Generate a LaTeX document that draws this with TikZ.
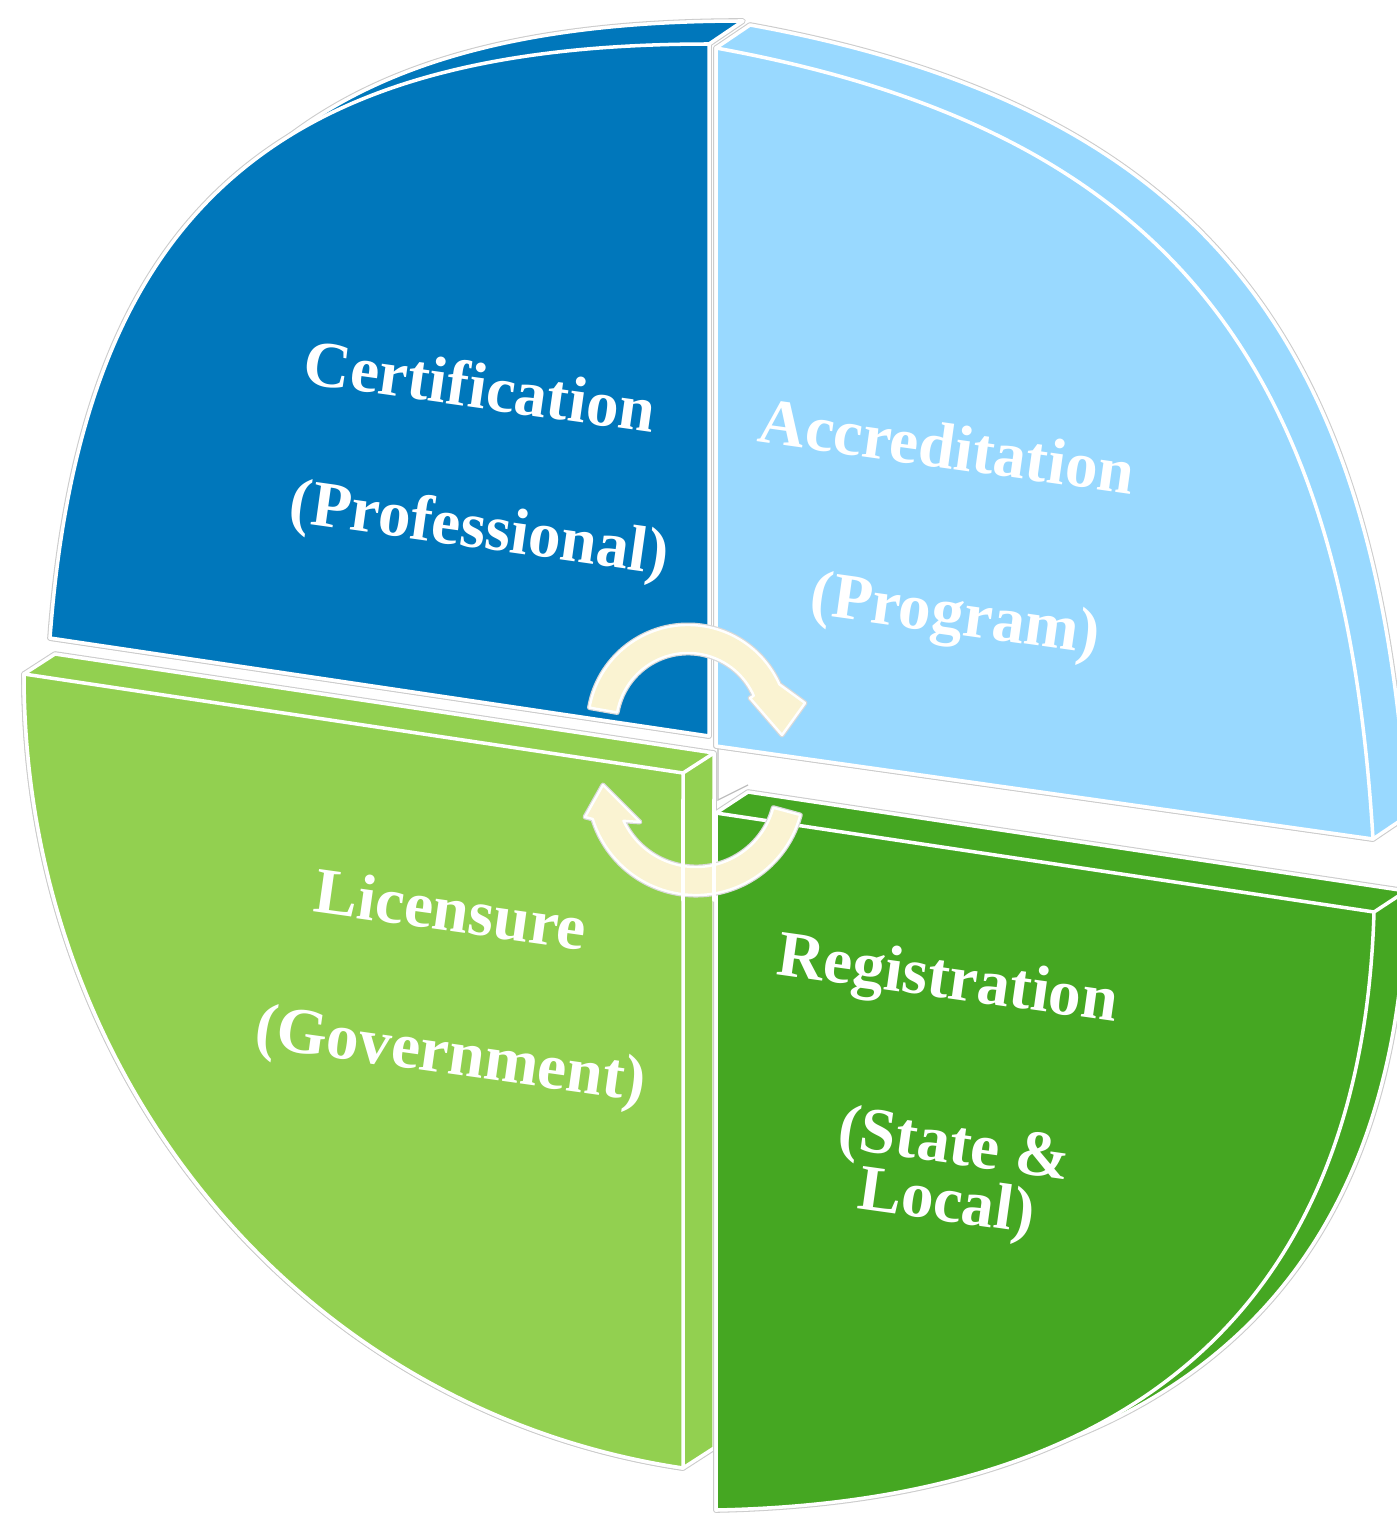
\documentclass[tikz,border=0pt]{standalone}
\usepackage{fontspec}
\setmainfont{Liberation Serif}
\definecolor{qblue}{HTML}{0077BB}
\definecolor{qlblue}{HTML}{99D9FF}
\definecolor{qlgreen}{HTML}{92D050}
\definecolor{qdgreen}{HTML}{45A722}
\definecolor{qcream}{HTML}{FAF3D2}
\begin{document}
\begin{tikzpicture}[x=0.01cm, y=-0.01cm,
  sil/.style={draw=black!20, line width=1.6pt, line join=round},
  face/.style={draw=white, line width=1pt, line join=round},
  wedge/.style={draw=white, line width=1pt, line cap=round},
  lbl/.style={text=white, font=\fontsize{18.5}{22}\selectfont\bfseries, rotate=-8, anchor=base, inner sep=0pt},
  turn/.style={fill=qcream, draw=white, line width=0.7pt, line join=round},
  turnrim/.style={draw=black!15, line width=1.4pt, line join=round},
  ghost/.style={draw=black!25, line width=0.35pt}]
\fill[white] (0,0) rectangle (1397,1515);
\useasboundingbox (0,0) rectangle (1397,1515);

% ---------- quadrant shapes ----------
\def\blueBody{(84,615) .. controls (116,185) and (313,21) .. (743,21) -- (709,44) -- (709,736) -- (50,638) -- cycle}
\def\blueFront{(50,638) .. controls (82,208) and (279,44) .. (709,44) -- (709,736) -- cycle}
\def\lblueBody{(750,25) .. controls (1213,109) and (1379,351) .. (1407,816) -- (1373,839) -- (716,746) -- (716,48) -- cycle}
\def\lblueFront{(716,48) .. controls (1179,132) and (1345,374) .. (1373,839) -- (716,746) -- cycle}
\def\lgreenBody{(55,654) -- (714,753) -- (714,1448) -- (683,1468) .. controls (301,1411) and (24,1077) .. (24,674) -- cycle}
\def\lgreenFront{(24,674) -- (683,773) -- (683,1468) .. controls (301,1411) and (24,1077) .. (24,674) -- cycle}
\def\dgreenBody{(716,813) -- (748,792) -- (1406,891) .. controls (1400,1298) and (1157,1488) .. (748,1496) -- (716,1510) -- cycle}
\def\dgreenFront{(716,813) -- (1374,912) .. controls (1362,1317) and (1121,1502) .. (716,1510) -- cycle}

% Certification (dark blue)
\draw[sil] \blueBody; \draw[sil] \blueFront;
\path[fill=qblue, face] \blueBody;
\path[fill=qblue, face] \blueFront;

% Accreditation (light blue)
\draw[sil] \lblueBody; \draw[sil] \lblueFront;
\path[fill=qlblue, face] \lblueBody;
\path[fill=qlblue, face] \lblueFront;

% Licensure (light green)
\draw[sil] \lgreenBody; \draw[sil] \lgreenFront;
\path[fill=qlgreen, face] \lgreenBody;
\draw[wedge] (683,773) -- (714,753);
\path[fill=qlgreen, face] \lgreenFront;

% Registration (dark green)
\draw[sil] \dgreenBody; \draw[sil] \dgreenFront;
\path[fill=qdgreen, face] \dgreenBody;
\draw[wedge] (1374,912) -- (1406,891);
\path[fill=qdgreen, face] \dgreenFront;

% faint outline in the gap
\draw[ghost] (718,749) -- (718,800) -- (748,785);

% ---------- labels ----------
\node[lbl] (cert)  at (477,408)  {Certification};
\node[lbl] (prof)  at (477,548)  {(Professional)};
\node[lbl] (accr)  at (944,468)  {Accreditation};
\node[lbl] (prog)  at (953,634)  {(Program)};
\node[lbl] (lic)   at (448,931)  {Licensure};
\node[lbl] (gov)   at (448,1074) {(Government)};
\node[lbl] (reg)   at (945,998)  {Registration};
\node[lbl, align=center, anchor=center] (state) at (950,1177) {(State \&\\[-5.7pt]Local)};

% ---------- circular arrows ----------
\def\topArrow{(589.5,707.6) arc[start angle=-170, end angle=-24, radius=100] -- (805,703) -- (782,735) -- (750,698) -- (753.8,695.7) arc[start angle=-24, end angle=-170, radius=72] -- cycle}
\def\botArrow{(800.3,815) arc[start angle=15, end angle=162.8, radius=108] -- (585,817) -- (603,785) -- (640,822) -- (623.5,820.8) arc[start angle=155, end angle=15, radius=80] -- cycle}
\draw[turnrim] \topArrow;
\path[turn] \topArrow;
\draw[turnrim] \botArrow;
\path[turn] \botArrow;
% quadrant edges showing across the lower arrow
\draw[wedge] (683,800) -- (683,900);
\draw[wedge] (714,800) -- (714,900);
\end{tikzpicture}
\end{document}
